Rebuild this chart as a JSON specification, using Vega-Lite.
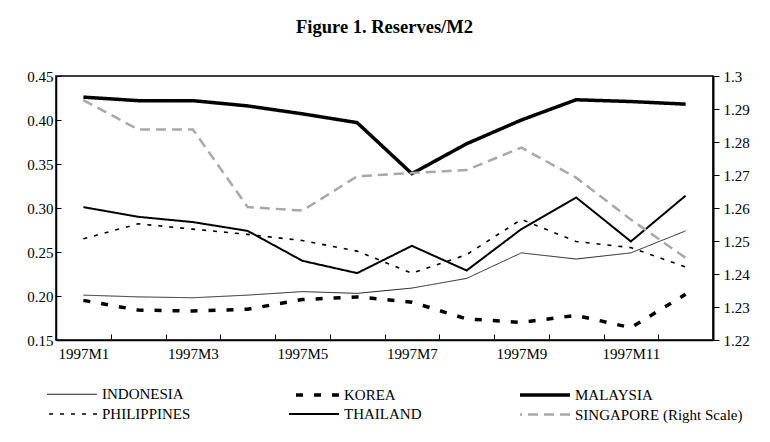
{
  "$schema": "https://vega.github.io/schema/vega-lite/v6.json",
  "width": 657,
  "height": 264,
  "autosize": {"type": "none"},
  "padding": {"left": 56, "top": 76, "right": 57, "bottom": 102},
  "background": "#FFFFFF",
  "title": {
    "text": "Figure 1. Reserves/M2",
    "font": "Liberation Serif",
    "fontSize": 18.5,
    "fontWeight": "bold",
    "color": "black",
    "anchor": "middle",
    "offset": 33
  },
  "config": {
    "view": {"stroke": "black", "strokeWidth": 1.5},
    "font": "Liberation Serif",
    "axis": {"labelFont": "Liberation Serif", "labelFontSize": 15, "labelColor": "black", "grid": false, "domainColor": "black", "tickColor": "black"}
  },
  "data": {
    "values": [
      {"month": "1997M1", "series": "INDONESIA", "value": 0.201},
      {"month": "1997M2", "series": "INDONESIA", "value": 0.199},
      {"month": "1997M3", "series": "INDONESIA", "value": 0.198},
      {"month": "1997M4", "series": "INDONESIA", "value": 0.201},
      {"month": "1997M5", "series": "INDONESIA", "value": 0.205},
      {"month": "1997M6", "series": "INDONESIA", "value": 0.203},
      {"month": "1997M7", "series": "INDONESIA", "value": 0.209},
      {"month": "1997M8", "series": "INDONESIA", "value": 0.220},
      {"month": "1997M9", "series": "INDONESIA", "value": 0.249},
      {"month": "1997M10", "series": "INDONESIA", "value": 0.242},
      {"month": "1997M11", "series": "INDONESIA", "value": 0.249},
      {"month": "1997M12", "series": "INDONESIA", "value": 0.274},
      {"month": "1997M1", "series": "KOREA", "value": 0.195},
      {"month": "1997M2", "series": "KOREA", "value": 0.184},
      {"month": "1997M3", "series": "KOREA", "value": 0.183},
      {"month": "1997M4", "series": "KOREA", "value": 0.185},
      {"month": "1997M5", "series": "KOREA", "value": 0.196},
      {"month": "1997M6", "series": "KOREA", "value": 0.199},
      {"month": "1997M7", "series": "KOREA", "value": 0.193},
      {"month": "1997M8", "series": "KOREA", "value": 0.174},
      {"month": "1997M9", "series": "KOREA", "value": 0.170},
      {"month": "1997M10", "series": "KOREA", "value": 0.178},
      {"month": "1997M11", "series": "KOREA", "value": 0.164},
      {"month": "1997M12", "series": "KOREA", "value": 0.202},
      {"month": "1997M1", "series": "MALAYSIA", "value": 0.426},
      {"month": "1997M2", "series": "MALAYSIA", "value": 0.422},
      {"month": "1997M3", "series": "MALAYSIA", "value": 0.422},
      {"month": "1997M4", "series": "MALAYSIA", "value": 0.416},
      {"month": "1997M5", "series": "MALAYSIA", "value": 0.407},
      {"month": "1997M6", "series": "MALAYSIA", "value": 0.397},
      {"month": "1997M7", "series": "MALAYSIA", "value": 0.339},
      {"month": "1997M8", "series": "MALAYSIA", "value": 0.373},
      {"month": "1997M9", "series": "MALAYSIA", "value": 0.400},
      {"month": "1997M10", "series": "MALAYSIA", "value": 0.423},
      {"month": "1997M11", "series": "MALAYSIA", "value": 0.421},
      {"month": "1997M12", "series": "MALAYSIA", "value": 0.418},
      {"month": "1997M1", "series": "PHILIPPINES", "value": 0.265},
      {"month": "1997M2", "series": "PHILIPPINES", "value": 0.282},
      {"month": "1997M3", "series": "PHILIPPINES", "value": 0.276},
      {"month": "1997M4", "series": "PHILIPPINES", "value": 0.270},
      {"month": "1997M5", "series": "PHILIPPINES", "value": 0.263},
      {"month": "1997M6", "series": "PHILIPPINES", "value": 0.251},
      {"month": "1997M7", "series": "PHILIPPINES", "value": 0.226},
      {"month": "1997M8", "series": "PHILIPPINES", "value": 0.247},
      {"month": "1997M9", "series": "PHILIPPINES", "value": 0.287},
      {"month": "1997M10", "series": "PHILIPPINES", "value": 0.262},
      {"month": "1997M11", "series": "PHILIPPINES", "value": 0.255},
      {"month": "1997M12", "series": "PHILIPPINES", "value": 0.233},
      {"month": "1997M1", "series": "THAILAND", "value": 0.301},
      {"month": "1997M2", "series": "THAILAND", "value": 0.290},
      {"month": "1997M3", "series": "THAILAND", "value": 0.284},
      {"month": "1997M4", "series": "THAILAND", "value": 0.274},
      {"month": "1997M5", "series": "THAILAND", "value": 0.240},
      {"month": "1997M6", "series": "THAILAND", "value": 0.226},
      {"month": "1997M7", "series": "THAILAND", "value": 0.257},
      {"month": "1997M8", "series": "THAILAND", "value": 0.229},
      {"month": "1997M9", "series": "THAILAND", "value": 0.276},
      {"month": "1997M10", "series": "THAILAND", "value": 0.312},
      {"month": "1997M11", "series": "THAILAND", "value": 0.262},
      {"month": "1997M12", "series": "THAILAND", "value": 0.314},
      {"month": "1997M1", "series": "SINGAPORE (Right Scale)", "value": 1.2927},
      {"month": "1997M2", "series": "SINGAPORE (Right Scale)", "value": 1.2838},
      {"month": "1997M3", "series": "SINGAPORE (Right Scale)", "value": 1.2838},
      {"month": "1997M4", "series": "SINGAPORE (Right Scale)", "value": 1.2603},
      {"month": "1997M5", "series": "SINGAPORE (Right Scale)", "value": 1.2592},
      {"month": "1997M6", "series": "SINGAPORE (Right Scale)", "value": 1.2696},
      {"month": "1997M7", "series": "SINGAPORE (Right Scale)", "value": 1.2706},
      {"month": "1997M8", "series": "SINGAPORE (Right Scale)", "value": 1.2715},
      {"month": "1997M9", "series": "SINGAPORE (Right Scale)", "value": 1.2783},
      {"month": "1997M10", "series": "SINGAPORE (Right Scale)", "value": 1.2692},
      {"month": "1997M11", "series": "SINGAPORE (Right Scale)", "value": 1.2565},
      {"month": "1997M12", "series": "SINGAPORE (Right Scale)", "value": 1.2449}
    ]
  },
  "encoding": {
    "x": {
      "field": "month",
      "type": "ordinal",
      "sort": null,
      "scale": {"type": "point", "padding": 0.5},
      "axis": {
        "title": null,
        "labelAngle": 0,
        "labelExpr": "indexof(['1997M1','1997M3','1997M5','1997M7','1997M9','1997M11'], datum.value) >= 0 ? datum.value : ''",
        "labelPadding": 12,
        "labelOffset": -27.4,
        "tickOffset": 27.4,
        "tickSize": -6,
        "domainWidth": 1.5
      }
    },
    "color": {
      "field": "series",
      "type": "nominal",
      "scale": {
        "domain": ["INDONESIA", "KOREA", "MALAYSIA", "PHILIPPINES", "THAILAND", "SINGAPORE (Right Scale)"],
        "range": ["#222222", "black", "black", "black", "black", "#a8a8a8"]
      },
      "legend": {
        "title": null,
        "orient": "none",
        "legendX": 19,
        "legendY": 307,
        "direction": "horizontal",
        "columns": 3,
        "columnPadding": 91,
        "rowPadding": 0,
        "symbolType": "M1,0H-4",
        "symbolSize": 400,
        "labelFont": "Liberation Serif",
        "labelFontSize": 15,
        "labelColor": "black",
        "labelOffset": 3,
        "labelLimit": 300
      }
    },
    "strokeDash": {
      "field": "series",
      "type": "nominal",
      "scale": {
        "domain": ["INDONESIA", "KOREA", "MALAYSIA", "PHILIPPINES", "THAILAND", "SINGAPORE (Right Scale)"],
        "range": [[1, 0], [7, 11], [1, 0], [4, 7], [1, 0], [10, 6]]
      },
      "legend": null
    },
    "strokeWidth": {
      "field": "series",
      "type": "nominal",
      "scale": {
        "type": "ordinal",
        "domain": ["INDONESIA", "KOREA", "MALAYSIA", "PHILIPPINES", "THAILAND", "SINGAPORE (Right Scale)"],
        "range": [1, 3.5, 3.5, 1.6, 2, 2.5]
      },
      "legend": null
    }
  },
  "layer": [
    {
      "transform": [{"filter": "datum.series != 'SINGAPORE (Right Scale)'"}],
      "mark": {"type": "line"},
      "encoding": {
        "y": {
          "field": "value",
          "type": "quantitative",
          "scale": {"domain": [0.15, 0.45], "nice": false, "zero": false},
          "axis": {
            "title": null,
            "values": [0.15, 0.2, 0.25, 0.3, 0.35, 0.4, 0.45],
            "format": ".2f",
            "tickSize": -5,
            "labelPadding": 8,
            "domainWidth": 1.5
          }
        }
      }
    },
    {
      "transform": [{"filter": "datum.series == 'SINGAPORE (Right Scale)'"}],
      "mark": {"type": "line"},
      "encoding": {
        "y": {
          "field": "value",
          "type": "quantitative",
          "scale": {"domain": [1.22, 1.3], "nice": false, "zero": false},
          "axis": {
            "title": null,
            "orient": "right",
            "values": [1.22, 1.23, 1.24, 1.25, 1.26, 1.27, 1.28, 1.29, 1.3],
            "format": ".2~f",
            "tickSize": 6,
            "labelPadding": 4,
            "domainWidth": 2
          }
        }
      }
    }
  ],
  "resolve": {"scale": {"y": "independent"}}
}
